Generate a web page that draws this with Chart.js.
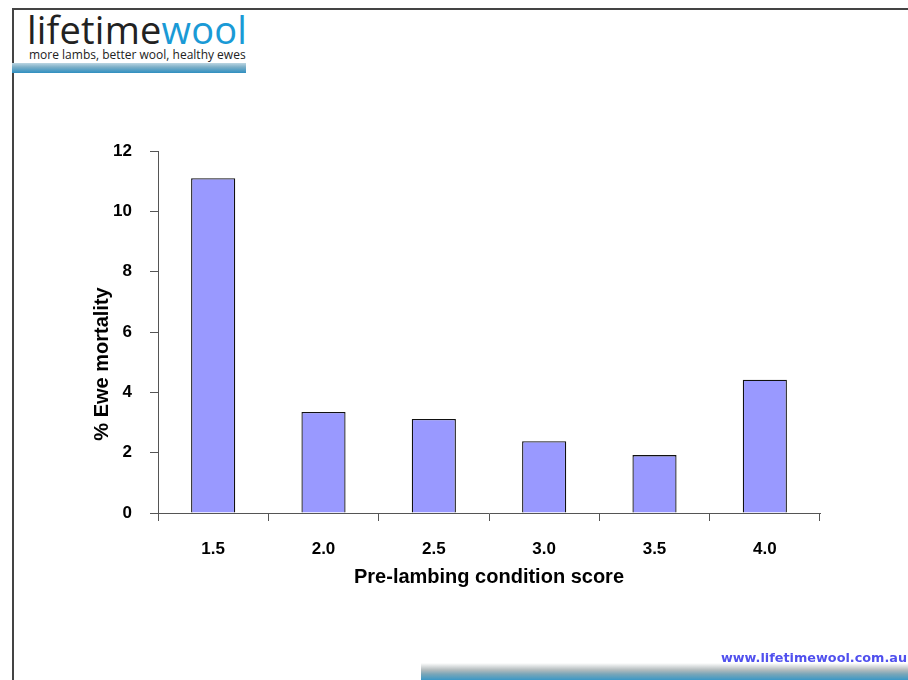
<!DOCTYPE html>
<html lang="en">
<head>
<meta charset="UTF-8">
<title>Ewe mortality by condition score</title>
<style>
    body { margin: 0; background: #fff; }
    .page { position: relative; width: 908px; height: 680px; overflow: hidden; }
    .frame { position: absolute; left: 12px; top: 8px; right: -10px; bottom: -10px;
             border-left: 2px solid #444; border-top: 2px solid #444; }
    .logo { position: absolute; left: 27px; top: 7px; font-family: "Open Sans", sans-serif;
            font-size: 38px; line-height: 44px; color: #222; letter-spacing: 0.2px; }
    .logo .b { color: #1a9ad6; }
    .tag { position: absolute; left: 29px; top: 48px; font-family: "Open Sans", sans-serif;
           font-size: 12px; line-height: 14px; color: #222; }
    .bar1 { position: absolute; left: 12px; top: 63px; width: 234px; height: 10px;
            background: linear-gradient(#bcd6e2, #7eb0c8 40%, #2f8fc0); }
    .bar2 { position: absolute; left: 421px; top: 663px; width: 487px; height: 17px;
            background: linear-gradient(#ffffff, #b4bcbe 40%, #7aa6b8 65%, #3c98c6); }
    .url { position: absolute; right: 1px; top: 650px; font-family: "DejaVu Sans", sans-serif;
           font-weight: bold; font-size: 12.8px; color: #5050ee; }
    canvas { position: absolute; left: 0; top: 0; }
</style>
</head>
<body>
<div class="page">
    <div class="frame"></div>
    <div class="logo"><span>lifetime</span><span class="b">wool</span></div>
    <div class="tag">more lambs, better wool, healthy ewes</div>
    <div class="bar1"></div>
    <canvas id="chartBar" width="908" height="680"></canvas>
    <div class="url">www.lifetimewool.com.au</div>
    <div class="bar2"></div>
</div>

<script src="https://cdn.jsdelivr.net/npm/chart.js"></script>
<script>
const categories = ['1.5', '2.0', '2.5', '3.0', '3.5', '4.0']
const mortality = [11.1, 3.35, 3.12, 2.38, 1.92, 4.42]
const yTicks = [0, 2, 4, 6, 8, 10, 12]

const fontFamily = '"Liberation Sans", Arial, sans-serif'

// y title sits lower than centre in the original, so draw it by hand
const yTitle = {
    id: 'yTitle',
    afterDraw(chart) {
        const ctx = chart.ctx
        const area = chart.chartArea
        ctx.save()
        ctx.translate(area.left - 56, area.bottom - 149)
        ctx.rotate(-Math.PI / 2)
        ctx.font = 'bold 20px ' + fontFamily
        ctx.textAlign = 'center'
        ctx.textBaseline = 'middle'
        ctx.fillStyle = '#000'
        ctx.fillText('% Ewe mortality', 0, 0)
        ctx.restore()
    }
}

const axisGrid = {
    display: true,
    drawOnChartArea: false,
    drawTicks: true,
    tickLength: 8,
    color: '#555'
}

new Chart(document.getElementById('chartBar'), {
    type: 'bar',
    data: {
        labels: categories,
        datasets: [{
            label: '% Ewe mortality',
            data: mortality,
            backgroundColor: '#9999ff',
            borderColor: '#111',
            borderWidth: 1.3,
            barPercentage: 0.4,
            categoryPercentage: 1
        }]
    },
    options: {
        responsive: false,
        animation: false,
        layout: { padding: { left: 88, top: 151, right: 88, bottom: 91 } },
        plugins: { legend: { display: false }, tooltip: { enabled: false } },
        scales: {
            x: {
                grid: Object.assign({ offset: true }, axisGrid),
                border: { display: true, color: '#555' },
                ticks: { color: '#000', padding: 18, font: { family: fontFamily, size: 17, weight: 'bold' } },
                title: {
                    display: true,
                    text: 'Pre-lambing condition score',
                    color: '#000',
                    padding: 0,
                    font: { family: fontFamily, size: 20, weight: 'bold' }
                },
                afterFit(s) { s.height = 76 }
            },
            y: {
                min: 0,
                max: 12,
                grid: axisGrid,
                border: { display: true, color: '#555' },
                ticks: { color: '#000', padding: 18, font: { family: fontFamily, size: 17, weight: 'bold' } },
                afterBuildTicks(s) { s.ticks = yTicks.map(v => ({ value: v })) },
                afterFit(s) { s.width = 70 }
            }
        }
    },
    plugins: [yTitle]
})
</script>
</body>
</html>
